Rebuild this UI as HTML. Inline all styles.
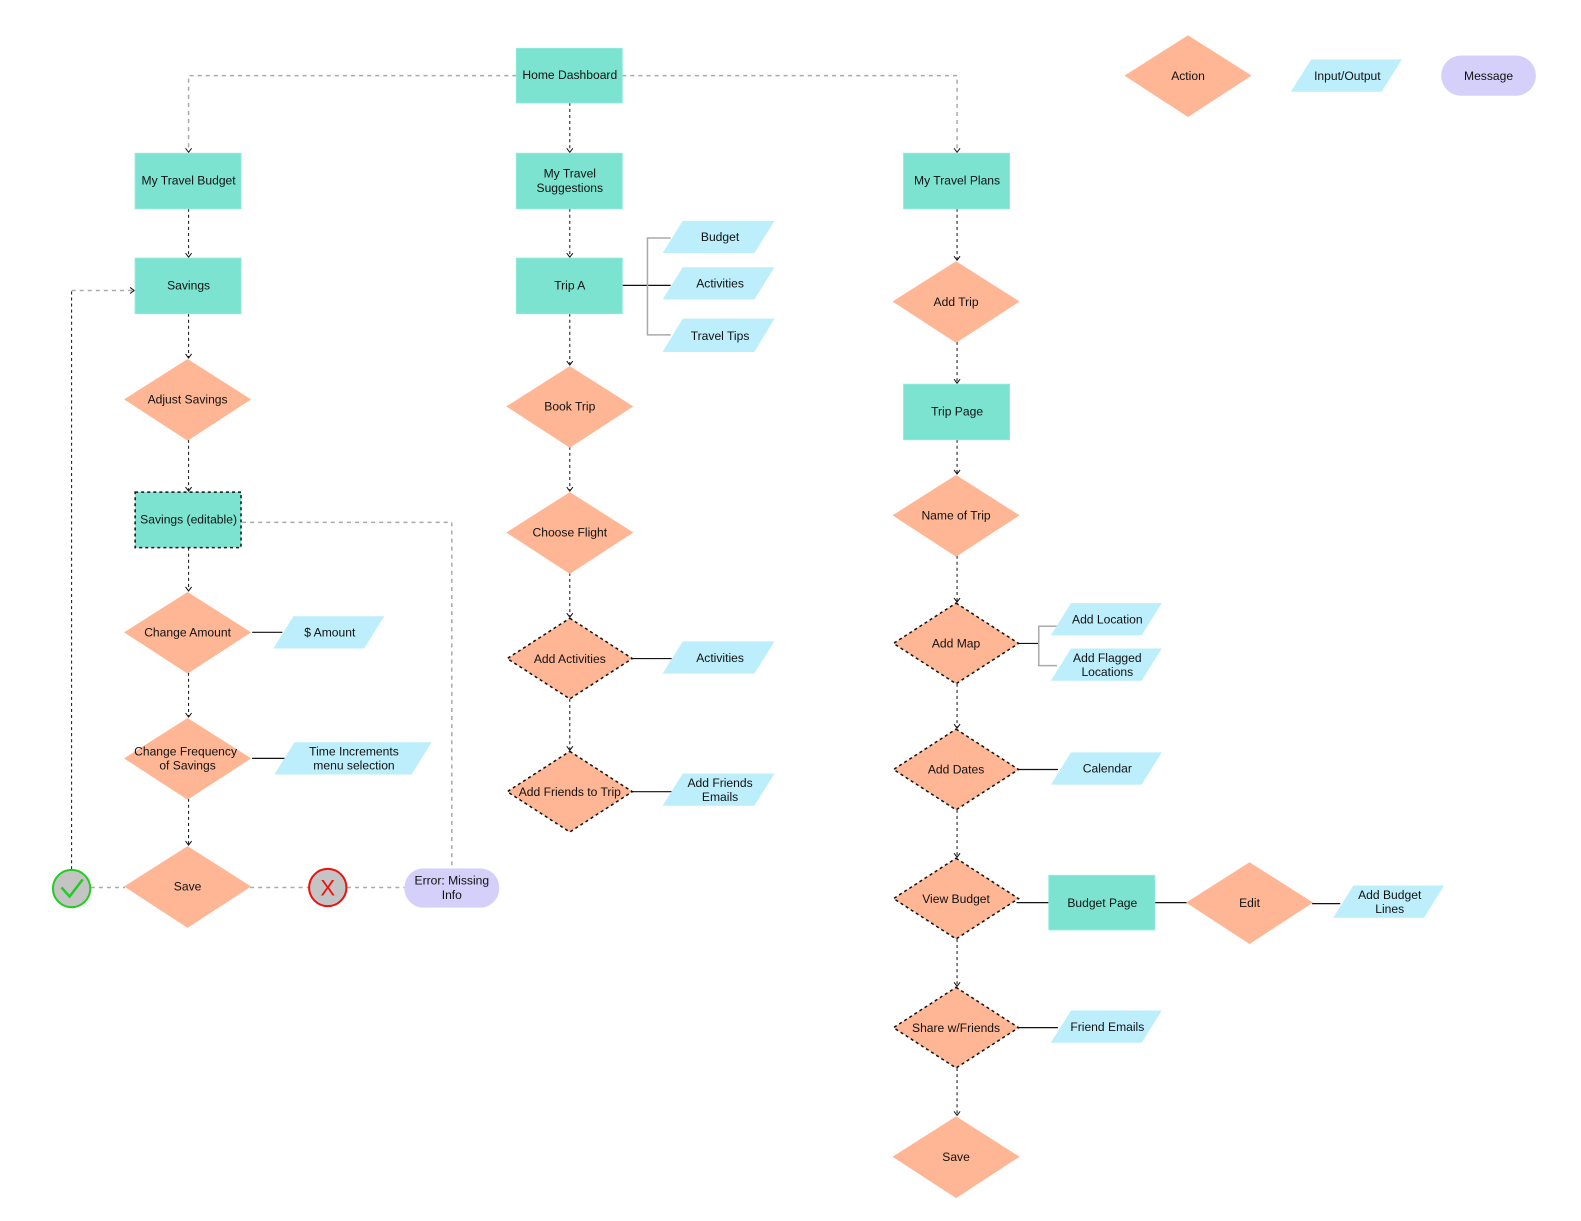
<!DOCTYPE html>
<html><head><meta charset="utf-8"><style>
html,body{margin:0;padding:0;background:#fff;width:1581px;height:1221px;overflow:hidden}
svg{display:block;position:absolute;left:0;top:0}
text{font-family:"Liberation Sans",sans-serif;font-size:12px;fill:#111;text-anchor:middle;dominant-baseline:middle}
.r{fill:#7be3d0;stroke:#8eeadb;stroke-width:1}
.d{fill:#ffb695}
.dd{fill:#ffb695;stroke:#111;stroke-width:1.5;stroke-dasharray:3 3}
.p{fill:#bdeefb}
.m{fill:#d4d0fa}
.bk{stroke:#111;stroke-width:1;stroke-dasharray:3 3;fill:none}
.gr{stroke:#aaa;stroke-width:1.5;stroke-dasharray:4 4;fill:none}
.s{stroke:#111;stroke-width:1.2;fill:none}
.g{stroke:#aaa;stroke-width:1.5;fill:none}
.ah{stroke:#111;stroke-width:1;fill:none}
</style></head><body>
<svg width="1581" height="1221" viewBox="0 0 1581 1221" xmlns="http://www.w3.org/2000/svg">
<g transform="scale(1.0085)">
<path class="gr" d="M512 75 H187 V150"/>
<path class="gr" d="M617 75 H949 V150"/>
<path class="bk" d="M565 102 V150"/>
<path class="bk" d="M187 207 V254"/>
<path class="bk" d="M187 311 V354"/>
<path class="bk" d="M187 436 V486"/>
<path class="bk" d="M187 543 V585"/>
<path class="bk" d="M187 667 V710"/>
<path class="bk" d="M187 792 V837"/>
<path class="bk" d="M565 207 V254"/>
<path class="bk" d="M565 311 V361"/>
<path class="bk" d="M565 443 V486"/>
<path class="bk" d="M565 568 V611"/>
<path class="bk" d="M565 693 V743"/>
<path class="bk" d="M949 207 V257"/>
<path class="bk" d="M949 339 V379"/>
<path class="bk" d="M949 436 V469"/>
<path class="bk" d="M949 551 V596"/>
<path class="bk" d="M949 678 V721"/>
<path class="bk" d="M949 803 V849"/>
<path class="bk" d="M949 931 V977"/>
<path class="bk" d="M949 1059 V1105"/>
<path class="bk" d="M71 862 V288"/>
<path class="gr" d="M71 288 H132"/>
<g class="ah">
<path d="M184 147 L187 151 L190 147"/><path d="M946 147 L949 151 L952 147"/><path d="M562 147 L565 151 L568 147"/>
<path d="M184 251 L187 255 L190 251"/><path d="M184 351 L187 355 L190 351"/><path d="M184 483 L187 487 L190 483"/>
<path d="M184 582 L187 586 L190 582"/><path d="M184 707 L187 711 L190 707"/><path d="M184 834 L187 838 L190 834"/>
<path d="M562 251 L565 255 L568 251"/><path d="M562 358 L565 362 L568 358"/><path d="M562 483 L565 487 L568 483"/>
<path d="M562 608 L565 612 L568 608"/><path d="M562 740 L565 744 L568 740"/>
<path d="M946 254 L949 258 L952 254"/><path d="M946 376 L949 380 L952 376"/><path d="M946 466 L949 470 L952 466"/>
<path d="M946 593 L949 597 L952 593"/><path d="M946 718 L949 722 L952 718"/><path d="M946 846 L949 850 L952 846"/>
<path d="M946 974 L949 978 L952 974"/><path d="M946 1102 L949 1106 L952 1102"/>
<path d="M129 285 L133 288 L129 291"/>
</g>
<path class="gr" d="M240 518 H448 V861"/>
<path class="gr" d="M90 880 H124"/>
<path class="gr" d="M248 880 H306"/>
<path class="gr" d="M344 880 H401"/>
<path class="s" d="M617 283 H665"/>
<path class="g" d="M665 236 H642 V332 H665"/>
<path class="s" d="M250 627 H280"/>
<path class="s" d="M250 752 H286"/>
<path class="s" d="M627 653 H666"/>
<path class="s" d="M627 785 H666"/>
<path class="s" d="M1010 638 H1030"/>
<path class="g" d="M1048 621 H1030 V660 H1048"/>
<path class="s" d="M1010 763 H1049"/>
<path class="s" d="M1008 895 H1040"/>
<path class="s" d="M1145 895 H1177"/>
<path class="s" d="M1301 896 H1329"/>
<path class="s" d="M1010 1019 H1049"/>
<rect class="r" x="512" y="48" width="105" height="54"/><text x="565" y="75">Home Dashboard</text>
<rect class="r" x="134" y="152" width="105" height="55"/><text x="187" y="180">My Travel Budget</text>
<rect class="r" x="512" y="152" width="105" height="55"/><text x="565" y="173">My Travel</text><text x="565" y="187">Suggestions</text>
<rect class="r" x="896" y="152" width="105" height="55"/><text x="949" y="180">My Travel Plans</text>
<rect class="r" x="134" y="256" width="105" height="55"/><text x="187" y="284">Savings</text>
<rect x="134" y="488" width="105" height="55" fill="#7be3d0" stroke="#111" stroke-width="1.5" stroke-dasharray="3 3"/><text x="187" y="516">Savings (editable)</text>
<rect class="r" x="512" y="256" width="105" height="55"/><text x="565" y="284">Trip A</text>
<rect class="r" x="896" y="381" width="105" height="55"/><text x="949" y="409">Trip Page</text>
<rect class="r" x="1040" y="868" width="105" height="54"/><text x="1093" y="896">Budget Page</text>
<polygon class="d" points="186,356 249,396 186,437 123,396"/><text x="186" y="397">Adjust Savings</text>
<polygon class="d" points="186,587 249,627 186,668 123,627"/><text x="186" y="628">Change Amount</text>
<polygon class="d" points="186,712 249,752 186,793 123,752"/><text x="184" y="746">Change Frequency</text><text x="186" y="760">of Savings</text>
<polygon class="d" points="186,839 249,879 186,920 123,879"/><text x="186" y="880">Save</text>
<polygon class="d" points="565,363 628,403 565,444 502,403"/><text x="565" y="404">Book Trip</text>
<polygon class="d" points="565,488 628,528 565,569 502,528"/><text x="565" y="529">Choose Flight</text>
<polygon class="dd" points="565,613 627,653 565,693 503,653"/><text x="565" y="654">Add Activities</text>
<polygon class="dd" points="565,745 627,785 565,825 503,785"/><text x="565" y="786">Add Friends to Trip</text>
<polygon class="d" points="948,259 1011,299 948,340 885,299"/><text x="948" y="300">Add Trip</text>
<polygon class="d" points="948,471 1011,511 948,552 885,511"/><text x="948" y="512">Name of Trip</text>
<polygon class="dd" points="948,598 1010,638 948,678 886,638"/><text x="948" y="639">Add Map</text>
<polygon class="dd" points="948,723 1010,763 948,803 886,763"/><text x="948" y="764">Add Dates</text>
<polygon class="dd" points="948,851 1010,891 948,931 886,891"/><text x="948" y="892">View Budget</text>
<polygon class="dd" points="948,979 1010,1019 948,1059 886,1019"/><text x="948" y="1020">Share w/Friends</text>
<polygon class="d" points="948,1107 1011,1147 948,1188 885,1147"/><text x="948" y="1148">Save</text>
<polygon class="d" points="1239,855 1302,895 1239,936 1176,895"/><text x="1239" y="896">Edit</text>
<polygon class="d" points="1178,35 1241,75 1178,116 1115,75"/><text x="1178" y="76">Action</text>
<polygon class="p" points="677,219 768,219 748,251 657,251"/><text x="714" y="236">Budget</text>
<polygon class="p" points="677,265 768,265 748,297 657,297"/><text x="714" y="282">Activities</text>
<polygon class="p" points="677,316 768,316 748,349 657,349"/><text x="714" y="334">Travel Tips</text>
<polygon class="p" points="291,611 381,611 361,643 271,643"/><text x="327" y="628">$ Amount</text>
<polygon class="p" points="292,736 428,736 408,768 272,768"/><text x="351" y="746">Time Increments</text><text x="351" y="760">menu selection</text>
<polygon class="p" points="677,636 768,636 748,668 657,668"/><text x="714" y="653">Activities</text>
<polygon class="p" points="677,767 768,767 748,799 657,799"/><text x="714" y="777">Add Friends</text><text x="714" y="791">Emails</text>
<polygon class="p" points="1062,598 1152,598 1132,630 1042,630"/><text x="1098" y="615">Add Location</text>
<polygon class="p" points="1062,643 1152,643 1132,675 1042,675"/><text x="1098" y="653">Add Flagged</text><text x="1098" y="667">Locations</text>
<polygon class="p" points="1062,746 1152,746 1132,778 1042,778"/><text x="1098" y="763">Calendar</text>
<polygon class="p" points="1062,1002 1152,1002 1132,1034 1042,1034"/><text x="1098" y="1019">Friend Emails</text>
<polygon class="p" points="1342,878 1432,878 1412,910 1322,910"/><text x="1378" y="888">Add Budget</text><text x="1378" y="902">Lines</text>
<polygon class="p" points="1300,59 1390,59 1370,91 1280,91"/><text x="1336" y="76">Input/Output</text>
<rect class="m" x="401" y="861" width="94" height="39" rx="19"/><text x="448" y="874">Error: Missing</text><text x="448" y="888">Info</text>
<rect class="m" x="1429" y="55" width="94" height="40" rx="20"/><text x="1476" y="76">Message</text>
<circle cx="71" cy="881" r="18.5" fill="#c4c4c4" stroke="#22cc22" stroke-width="2"/>
<path d="M61 880 L69 889 L82 872" stroke="#22cc22" stroke-width="2.5" fill="none"/>
<circle cx="325" cy="880" r="18.5" fill="#c4c4c4" stroke="#ee1111" stroke-width="2"/>
<text x="325" y="882" style="fill:#ee1111;font-size:22px">X</text>
</g>
</svg>
</body></html>
